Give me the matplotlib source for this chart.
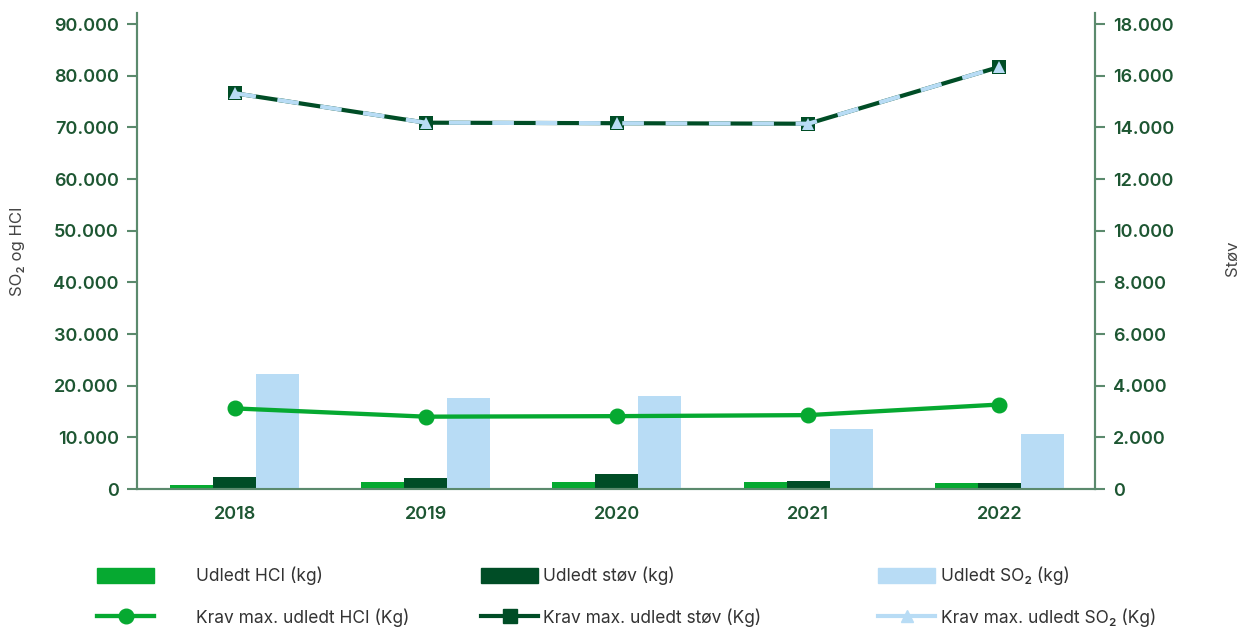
import matplotlib.pyplot as plt
from matplotlib.lines import Line2D
from matplotlib.patches import Patch
from matplotlib.ticker import FuncFormatter
import numpy as np

plt.rcParams["font.family"] = ["Inter", "DejaVu Sans"]

years = ["2018", "2019", "2020", "2021", "2022"]
udledt_hcl = [700, 1300, 1300, 1300, 1100]
udledt_stov = [460, 425, 580, 310, 230]
udledt_so2 = [22200, 17600, 17950, 11600, 10600]
krav_hcl = [15600, 14000, 14100, 14300, 16350]
krav_stov = [15320, 14180, 14160, 14140, 16340]
krav_so2 = [76600, 70900, 70800, 70700, 81700]

c_hcl = "#06a931"
c_stov = "#004d26"
c_so2 = "#b8dcf5"
c_axis = "#5b8a6d"
c_tick = "#1d5632"
c_text = "#333333"


def fmt(v, pos):
    return f"{v:,.0f}".replace(",", ".")


fig = plt.figure(figsize=(12.44, 6.30), dpi=100)
ax1 = fig.add_axes([137 / 1244, 1 - 489 / 630, (1095 - 137) / 1244, (489 - 13) / 630])
ax2 = ax1.twinx()
ax1.set_zorder(ax2.get_zorder() + 1)
ax1.patch.set_visible(False)

x = np.arange(len(years))
w = 0.225

ax1.bar(x - w, udledt_hcl, w, color=c_hcl, zorder=2)
ax2.bar(x, udledt_stov, w, color=c_stov, zorder=2)
ax1.bar(x + w, udledt_so2, w, color=c_so2, zorder=2)

ax1.plot(x, krav_hcl, color=c_hcl, lw=3.1, marker="o", ms=10.5, zorder=4)
ax2.plot(x, krav_stov, color=c_stov, lw=3.0, marker="s", ms=9.5, markeredgewidth=0, zorder=4)
ax1.plot(x, krav_so2, color=c_so2, lw=3.0, dashes=(5.2, 5.2), marker="^",
         ms=8.5, markeredgewidth=0, zorder=5)

ax1.set_xlim(-0.51, 4.50)
ax1.set_ylim(0, 92130)
ax2.set_ylim(0, 18426)
ax1.set_yticks(range(0, 90001, 10000))
ax2.set_yticks(range(0, 18001, 2000))
ax1.yaxis.set_major_formatter(FuncFormatter(fmt))
ax2.yaxis.set_major_formatter(FuncFormatter(fmt))
ax1.set_xticks(x)
ax1.set_xticklabels(years)

for ax in (ax1, ax2):
    ax.spines["top"].set_visible(False)
    for s in ("left", "right", "bottom"):
        ax.spines[s].set_color(c_axis)
        ax.spines[s].set_linewidth(1.5)
    ax.tick_params(axis="y", direction="out", length=7, width=1.5, color=c_axis,
                   labelcolor=c_tick, labelsize=13, pad=6)
    ax.tick_params(axis="x", length=0, labelcolor=c_tick, labelsize=13, pad=12)
    for lbl in ax.get_yticklabels() + ax.get_xticklabels():
        lbl.set_fontweight("semibold")

fig.text(18 / 1244, 1 - 251 / 630, "SO₂ og HCI", rotation=90, ha="center",
         va="center", fontsize=12, color="#444444")
fig.text(1232 / 1244, 1 - 258 / 630, "Støv", rotation=90, ha="center",
         va="center", fontsize=12, color="#444444")

# legend: three columns of two rows
cols = [
    (97, 2.4, [Patch(color=c_hcl), Line2D([], [], color=c_hcl, lw=3.1, marker="o", ms=10.5)],
     ["Udledt HCI (kg)", "Krav max. udledt HCI (Kg)"]),
    (481, 0.25, [Patch(color=c_stov), Line2D([], [], color=c_stov, lw=3.0, marker="s", ms=9.5)],
     ["Udledt støv (kg)", "Krav max. udledt støv (Kg)"]),
    (878, 0.35, [Patch(color=c_so2), Line2D([], [], color=c_so2, lw=3.0, marker="^", ms=9)],
     ["Udledt SO₂ (kg)", "Krav max. udledt SO₂ (Kg)"]),
]
for xpos, pad, handles, labels in cols:
    leg = fig.legend(handles, labels, loc="center left",
                     bbox_to_anchor=(xpos / 1244, 1 - 597 / 630),
                     frameon=False, fontsize=12.5, handlelength=3.3, handleheight=1.0,
                     handletextpad=pad, labelspacing=1.35, borderpad=0, borderaxespad=0)
    for t in leg.get_texts():
        t.set_color(c_text)

fig.savefig("out.png", dpi=100)
